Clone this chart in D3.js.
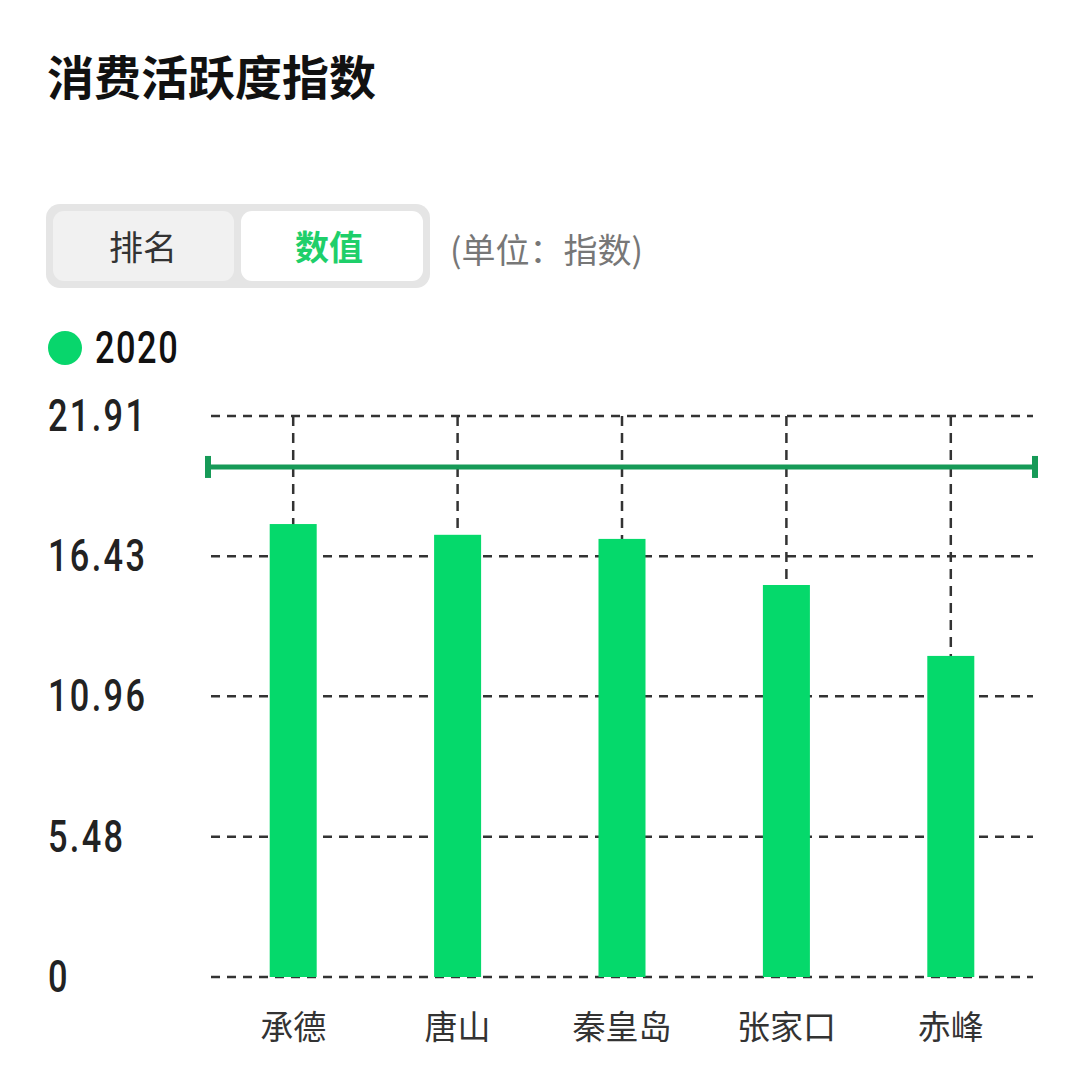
<!DOCTYPE html>
<html><head><meta charset="utf-8">
<script src="https://cdn.jsdelivr.net/npm/d3@7"></script>
<style>html,body{margin:0;padding:0;background:#fff;}</style>
</head><body>
<div id="chart"></div>
<script>
const categories = ["承德", "唐山", "秦皇岛", "张家口", "赤峰"];
const values2020 = [17.69, 17.27, 17.11, 15.31, 12.54];
const referenceValue = [19.92];
const yTicks = [0, 5.48, 10.96, 16.43, 21.91];
const yTickLabels = ["0", "5.48", "10.96", "16.43", "21.91"];
const seriesName = "2020";

const W = 1080, H = 1080;
const svg = d3.select("#chart").append("svg").attr("width", W).attr("height", H);
const cjk = "'Noto Sans CJK SC','Noto Sans',sans-serif";
const narrow = "Roboto,'DejaVu Sans',sans-serif";
const sx = 0.78;

// Title
svg.append("text").attr("x", 47).attr("y", 95).attr("font-family", cjk)
  .attr("font-weight", 700).attr("font-size", 47).attr("fill", "#111").text("消费活跃度指数");

// Toggle
svg.append("rect").attr("x", 46).attr("y", 204).attr("width", 384).attr("height", 84).attr("rx", 14).attr("fill", "#e5e5e5");
svg.append("rect").attr("x", 53).attr("y", 211).attr("width", 181).attr("height", 70).attr("rx", 11).attr("fill", "#f1f1f1");
svg.append("rect").attr("x", 241).attr("y", 211).attr("width", 182).attr("height", 70).attr("rx", 11).attr("fill", "#ffffff");
svg.append("text").attr("x", 143).attr("y", 260).attr("text-anchor", "middle").attr("font-family", cjk)
  .attr("font-size", 34).attr("fill", "#333").text("排名");
svg.append("text").attr("x", 329).attr("y", 260).attr("text-anchor", "middle").attr("font-family", cjk)
  .attr("font-weight", 700).attr("font-size", 34).attr("fill", "#1ecf6a").text("数值");
svg.append("text").attr("x", 450).attr("y", 263).attr("font-family", cjk)
  .attr("font-size", 34).attr("fill", "#777").text("(单位：指数)");

// Legend
svg.append("circle").attr("cx", 65).attr("cy", 348).attr("r", 17).attr("fill", "#08d66c");
svg.append("text").attr("transform", `translate(95,363) scale(${sx},1)`).attr("font-family", narrow)
  .attr("font-weight", 500).attr("font-size", 44).attr("letter-spacing", 2).attr("fill", "#111").text(seriesName);

// Scales
const x = d3.scaleBand().domain(categories).range([211, 1033]).paddingInner(0).paddingOuter(0);
const y = d3.scaleLinear().domain([0, 21.91]).range([977, 416]);
const barW = 47;

// Horizontal grid
const gridG = svg.append("g");
gridG.selectAll("line.h").data(yTicks).join("line")
  .attr("x1", 211).attr("x2", 1033)
  .attr("y1", d => y(d)).attr("y2", d => y(d))
  .attr("stroke", "#333").attr("stroke-width", 2.5).attr("stroke-dasharray", "9,7");

// Vertical dashed lines at category centers
gridG.selectAll("line.v").data(categories).join("line")
  .attr("x1", d => x(d) + x.bandwidth() / 2).attr("x2", d => x(d) + x.bandwidth() / 2)
  .attr("y1", y(21.91)).attr("y2", y(0))
  .attr("stroke", "#333").attr("stroke-width", 2.5).attr("stroke-dasharray", "10,7");

// Y labels
svg.append("g").selectAll("text").data(yTicks).join("text")
  .attr("transform", d => `translate(48,${y(d) + 15}) scale(${sx},1)`)
  .attr("font-family", narrow).attr("font-weight", 500).attr("font-size", 44)
  .attr("letter-spacing", 3).attr("fill", "#222")
  .text((d, i) => yTickLabels[i]);

// Bars
svg.append("g").selectAll("rect").data(values2020).join("rect")
  .attr("x", (d, i) => x(categories[i]) + x.bandwidth() / 2 - barW / 2)
  .attr("width", barW)
  .attr("y", d => y(d)).attr("height", d => y(0) - y(d))
  .attr("fill", "#05d96b");

// Reference line
const ry = y(referenceValue[0]);
const refG = svg.append("g").attr("stroke", "#169a57");
refG.append("line").attr("x1", 207).attr("x2", 1036).attr("y1", ry).attr("y2", ry).attr("stroke-width", 5);
refG.append("line").attr("x1", 208).attr("x2", 208).attr("y1", ry - 11).attr("y2", ry + 11).attr("stroke-width", 6);
refG.append("line").attr("x1", 1035).attr("x2", 1035).attr("y1", ry - 11).attr("y2", ry + 11).attr("stroke-width", 6);

// X labels
svg.append("g").selectAll("text").data(categories).join("text")
  .attr("x", d => x(d) + x.bandwidth() / 2).attr("y", 1039)
  .attr("text-anchor", "middle").attr("font-family", cjk)
  .attr("font-size", 33).attr("fill", "#333").text(d => d);
</script>
</body></html>
